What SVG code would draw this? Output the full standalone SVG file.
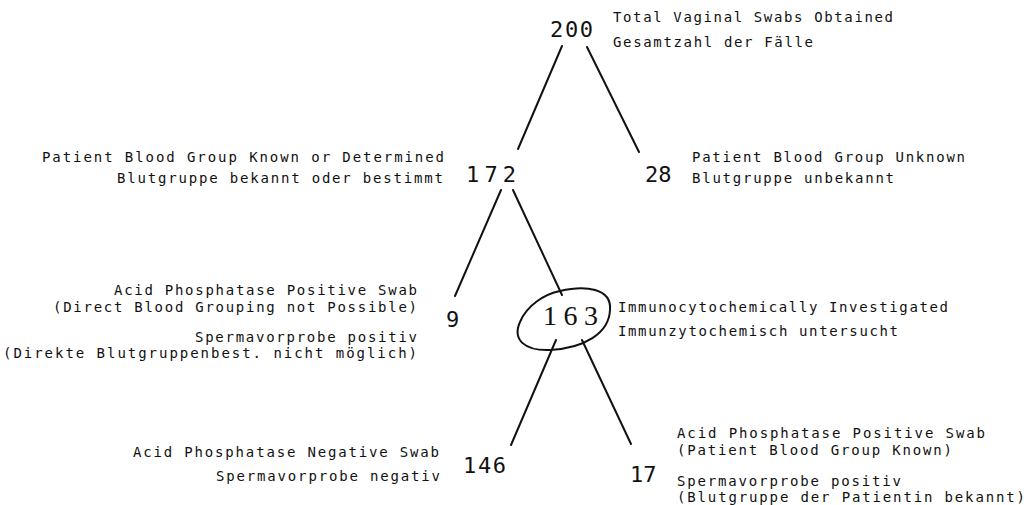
<svg xmlns="http://www.w3.org/2000/svg" width="1030" height="505" viewBox="0 0 1030 505">
<style>
.lbl{font-family:"DejaVu Sans Mono","Liberation Mono",monospace;font-size:14px;fill:#111}
.num{font-family:"DejaVu Sans Mono","Liberation Mono",monospace;font-size:22px;fill:#111}
.snum{font-family:"Liberation Serif","DejaVu Serif",serif;font-size:28px;fill:#111}
.ln{stroke:#111;stroke-width:2;fill:none;stroke-linecap:round}
</style>
<rect width="1030" height="505" fill="#fff"/>
<g id="connectors">
<line class="ln" x1="562" y1="46" x2="518" y2="149"/>
<line class="ln" x1="587" y1="47" x2="639" y2="152"/>
<line class="ln" x1="501" y1="190" x2="455" y2="296"/>
<line class="ln" x1="513" y1="190" x2="562" y2="295"/>
<line class="ln" x1="556" y1="340" x2="511" y2="445"/>
<line class="ln" x1="582" y1="340" x2="631" y2="444"/>
</g>
<g id="n200">
<text class="num" x="550" y="37" textLength="43" lengthAdjust="spacing">200</text>
<text class="lbl" x="613" y="22" textLength="280" lengthAdjust="spacing">Total Vaginal Swabs Obtained</text>
<text class="lbl" x="613" y="47" textLength="200" lengthAdjust="spacing">Gesamtzahl der Fälle</text>
</g>
<g id="n172">
<text class="num" x="466" y="182" textLength="50" lengthAdjust="spacing">172</text>
<text class="lbl" x="42" y="162" textLength="402" lengthAdjust="spacing">Patient Blood Group Known or Determined</text>
<text class="lbl" x="117" y="183" textLength="326" lengthAdjust="spacing">Blutgruppe bekannt oder bestimmt</text>
</g>
<g id="n28">
<text class="num" x="645" y="182">28</text>
<text class="lbl" x="692" y="162" textLength="273" lengthAdjust="spacing">Patient Blood Group Unknown</text>
<text class="lbl" x="692" y="183" textLength="202" lengthAdjust="spacing">Blutgruppe unbekannt</text>
</g>
<g id="n9">
<text class="num" x="446" y="327">9</text>
<text class="lbl" x="114" y="295" textLength="303" lengthAdjust="spacing">Acid Phosphatase Positive Swab</text>
<text class="lbl" x="53" y="312" textLength="364" lengthAdjust="spacing">(Direct Blood Grouping not Possible)</text>
<text class="lbl" x="195" y="342" textLength="222" lengthAdjust="spacing">Spermavorprobe positiv</text>
<text class="lbl" x="3" y="358" textLength="414" lengthAdjust="spacing">(Direkte Blutgruppenbest. nicht möglich)</text>
</g>
<g id="n163">
<path class="ln" d="M 560 291 C 585 285, 612 288, 610 310 C 609 333, 585 348, 550 350 C 525 351, 512 340, 520 322 C 527 305, 545 294, 560 291 Z"/>
<text class="snum" x="543" y="325" textLength="55" lengthAdjust="spacing">163</text>
<text class="lbl" x="618" y="312" textLength="330" lengthAdjust="spacing">Immunocytochemically Investigated</text>
<text class="lbl" x="618" y="336" textLength="280" lengthAdjust="spacing">Immunzytochemisch untersucht</text>
</g>
<g id="n146">
<text class="num" x="463" y="473" textLength="43" lengthAdjust="spacing">146</text>
<text class="lbl" x="133" y="457" textLength="306" lengthAdjust="spacing">Acid Phosphatase Negative Swab</text>
<text class="lbl" x="216" y="481" textLength="224" lengthAdjust="spacing">Spermavorprobe negativ</text>
</g>
<g id="n17">
<text class="num" x="630" y="482">17</text>
<text class="lbl" x="677" y="438" textLength="308" lengthAdjust="spacing">Acid Phosphatase Positive Swab</text>
<text class="lbl" x="677" y="455" textLength="275" lengthAdjust="spacing">(Patient Blood Group Known)</text>
<text class="lbl" x="677" y="486" textLength="224" lengthAdjust="spacing">Spermavorprobe positiv</text>
<text class="lbl" x="677" y="502" textLength="348" lengthAdjust="spacing">(Blutgruppe der Patientin bekannt)</text>
</g>
</svg>
